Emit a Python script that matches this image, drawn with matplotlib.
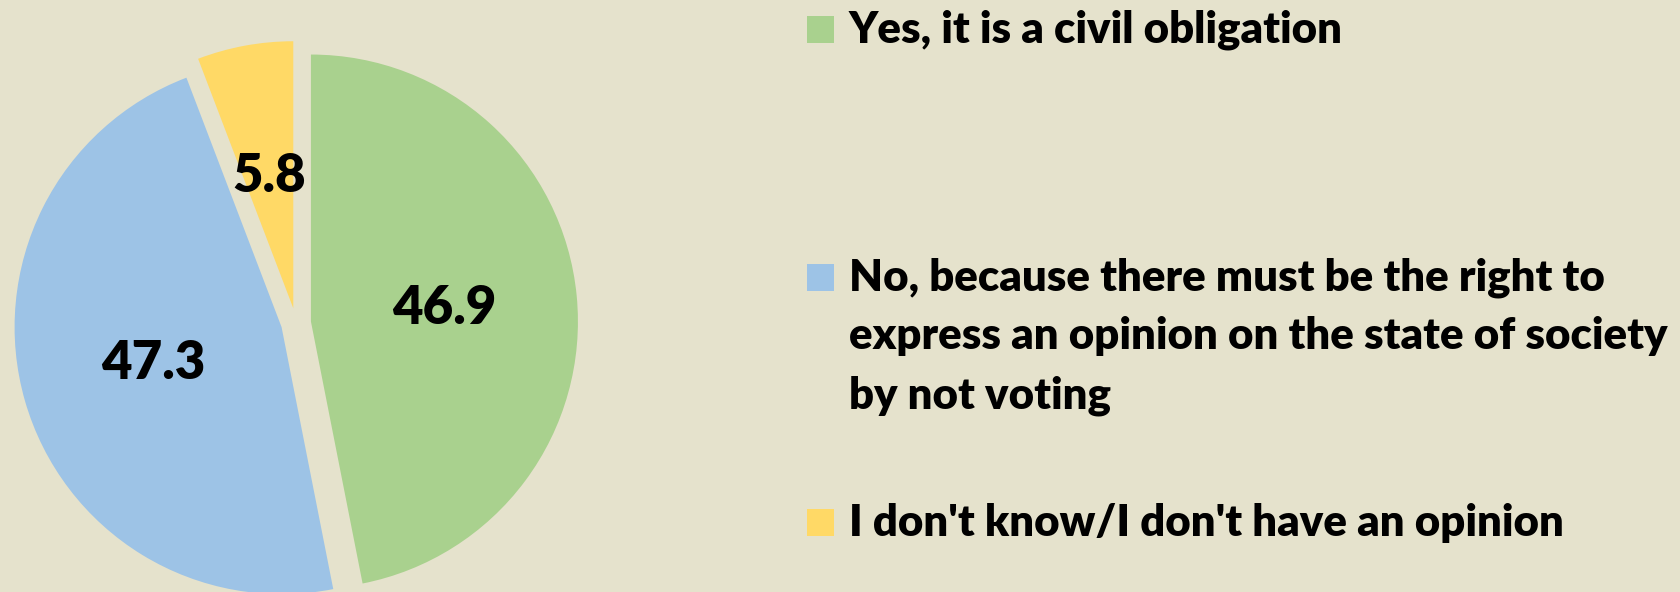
import matplotlib
matplotlib.use("Agg")
import matplotlib.pyplot as plt
from matplotlib.patches import Rectangle

# survey answers (percent)
labels = [
    "Yes, it is a civil obligation",
    "No, because there must be the right to\nexpress an opinion on the state of society\nby not voting",
    "I don't know/I don't have an opinion",
]
values = [46.9, 47.3, 5.8]
colors = ["#A9D18E", "#9DC3E6", "#FFD966"]

BG = "#E5E2CC"
FONT = "Lato"
W, H = 1680, 592

fig = plt.figure(figsize=(W / 100, H / 100), dpi=100, facecolor=BG)
ax = fig.add_axes([0, 0, 1, 1])
ax.set_facecolor(BG)

# pie drawn in pixel-like data units (explode is in data units here)
wedges, texts, autotexts = ax.pie(
    values,
    colors=colors,
    explode=[15] * len(values),
    startangle=90,
    counterclock=False,
    center=(296, H - 323),
    radius=267,
    autopct=lambda p: f"{p:.1f}",
    pctdistance=0.5,
    wedgeprops=dict(linewidth=0),
    textprops=dict(fontfamily=FONT, fontweight="heavy", fontsize=38, color="black"),
)
ax.set_xlim(0, W)
ax.set_ylim(0, H)
ax.set_axis_off()

# legend on the right
sq_x, sq_size = 807, 27
text_x = 849
baselines = [43, 291, 536]
line_gap = 58.5
legend_size = 31.5

for lab, col, base in zip(labels, colors, baselines):
    ax.add_patch(Rectangle((sq_x, H - base), sq_size, sq_size, facecolor=col,
                           edgecolor="none"))
    for i, line in enumerate(lab.split("\n")):
        ax.text(text_x, H - base - i * line_gap, line, fontfamily=FONT,
                fontweight="heavy", fontsize=legend_size, va="baseline",
                ha="left", color="black")

fig.savefig("out.png", dpi=100, facecolor=BG)
